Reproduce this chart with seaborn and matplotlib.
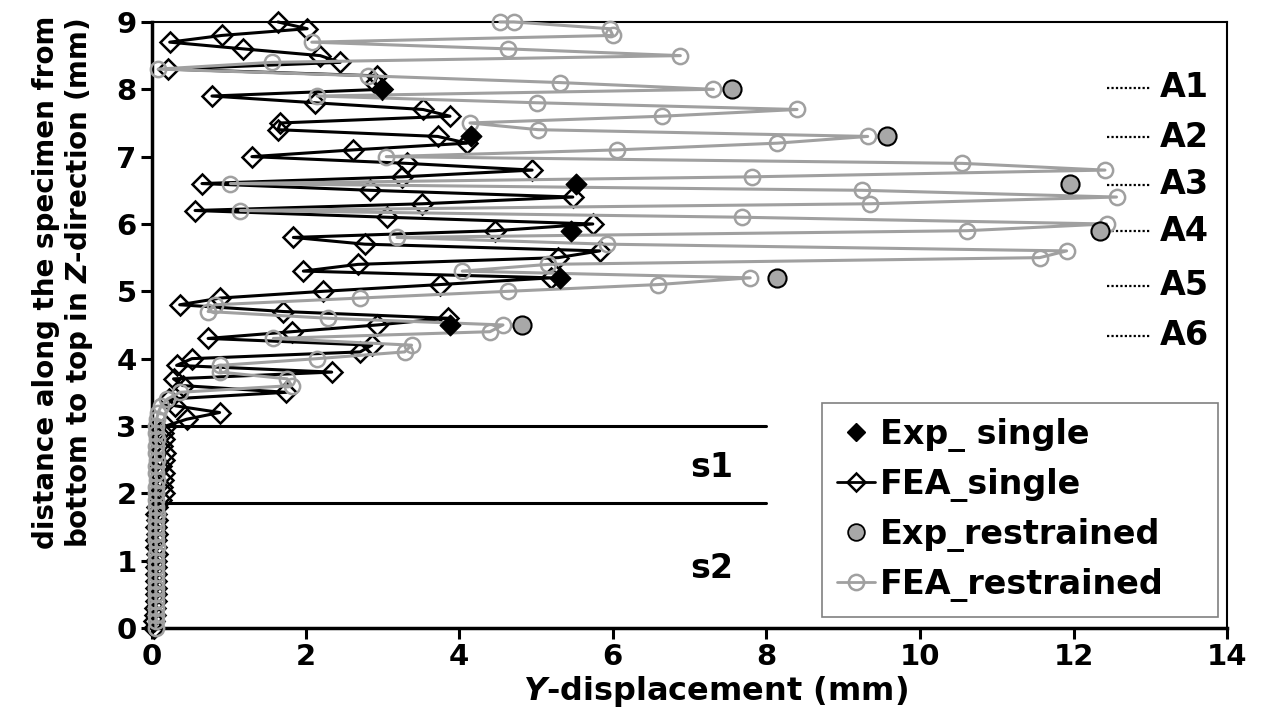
import matplotlib
matplotlib.use("Agg")
import matplotlib.pyplot as plt
import pandas as pd
import seaborn as sns
from matplotlib.lines import Line2D

# ---- FEA, single-track specimen: height z (mm) and Y-displacement (mm) ----
z_single = [9.0, 8.9, 8.8, 8.7, 8.6, 8.5, 8.4, 8.3, 8.2, 8.1, 8.0, 7.9, 7.8, 7.7,
            7.6, 7.5, 7.4, 7.3, 7.2, 7.1, 7.0, 6.9, 6.8, 6.7, 6.6, 6.5, 6.4, 6.3,
            6.2, 6.1, 6.0, 5.9, 5.8, 5.7, 5.6, 5.5, 5.4, 5.3, 5.2, 5.1, 5.0, 4.9,
            4.8, 4.7, 4.6, 4.5, 4.4, 4.3, 4.2, 4.1, 4.0, 3.9, 3.8, 3.7, 3.6, 3.5,
            3.4, 3.3, 3.2, 3.1, 3.0, 2.9, 2.8, 2.7, 2.6, 2.5, 2.4, 2.3, 2.2, 2.1,
            2.0, 1.9, 1.8, 1.7, 1.6, 1.5, 1.4, 1.3, 1.2, 1.1, 1.0, 0.9, 0.8, 0.7,
            0.6, 0.5, 0.4, 0.3, 0.2, 0.1, 0.0]
fea_single = [1.64, 2.02, 0.91, 0.23, 1.19, 2.19, 2.45, 0.21, 2.93, 2.90, 3.00,
              0.78, 2.12, 3.53, 3.88, 1.67, 1.64, 3.72, 4.10, 2.62, 1.30, 3.32,
              4.95, 3.26, 0.65, 2.84, 5.48, 3.52, 0.56, 3.06, 5.74, 4.47, 1.84,
              2.77, 5.83, 5.29, 2.68, 1.97, 5.20, 3.75, 2.23, 0.89, 0.36, 1.71,
              3.85, 2.93, 1.82, 0.73, 2.86, 2.71, 0.52, 0.32, 2.34, 0.28, 0.40,
              1.75, 0.22, 0.30, 0.88, 0.45, 0.18, 0.14, 0.16, 0.13, 0.17, 0.15,
              0.12, 0.16, 0.14, 0.13, 0.15, 0.12, 0.06, 0.05, 0.06, 0.05, 0.06,
              0.05, 0.05, 0.06, 0.05, 0.05, 0.05, 0.05, 0.05, 0.05, 0.05, 0.04,
              0.04, 0.03, 0.02]

# ---- FEA, restrained specimen ----
z_restr = [9.0, 9.0, 8.9, 8.8, 8.7, 8.6, 8.5, 8.4, 8.3, 8.2, 8.1, 8.0, 7.9, 7.8,
           7.7, 7.6, 7.5, 7.4, 7.3, 7.2, 7.1, 7.0, 6.9, 6.8, 6.7, 6.6, 6.5, 6.4,
           6.3, 6.2, 6.1, 6.0, 5.9, 5.8, 5.7, 5.6, 5.5, 5.4, 5.3, 5.2, 5.1, 5.0,
           4.9, 4.8, 4.7, 4.6, 4.5, 4.4, 4.3, 4.2, 4.1, 4.0, 3.9, 3.8, 3.7, 3.6,
           3.5, 3.4, 3.3, 3.2, 3.1, 3.0, 2.9, 2.8, 2.7, 2.6, 2.5, 2.4, 2.3, 2.2,
           2.1, 2.0, 1.9, 1.8, 1.7, 1.6, 1.5, 1.4, 1.3, 1.2, 1.1, 1.0, 0.9, 0.8,
           0.7, 0.6, 0.5, 0.4, 0.3, 0.2, 0.1, 0.0]
fea_restr = [4.53, 4.71, 5.96, 6.00, 2.08, 4.64, 6.88, 1.56, 0.08, 2.81, 5.31,
             7.31, 2.15, 5.01, 8.40, 6.64, 4.14, 5.03, 9.32, 8.14, 6.05, 3.05,
             10.55, 12.41, 7.81, 1.02, 9.25, 12.56, 9.35, 1.15, 7.68, 12.43,
             10.61, 3.19, 5.92, 11.91, 11.56, 5.16, 4.04, 7.79, 6.59, 4.64, 2.71,
             0.82, 0.73, 2.29, 4.57, 4.40, 1.58, 3.38, 3.29, 2.15, 0.89, 0.89,
             1.76, 1.82, 0.36, 0.20, 0.12, 0.08, 0.06, 0.05, 0.05, 0.06, 0.05,
             0.05, 0.06, 0.05, 0.05, 0.06, 0.05, 0.05, 0.05, 0.05, 0.06, 0.05,
             0.05, 0.05, 0.05, 0.06, 0.05, 0.05, 0.05, 0.05, 0.05, 0.05, 0.05,
             0.05, 0.05, 0.05, 0.05, 0.05]

# ---- Experimental measurements at the six sections A1..A6 ----
z_exp = [8.0, 7.3, 6.6, 5.9, 5.2, 4.5]
exp_single = [3.00, 4.15, 5.52, 5.45, 5.31, 3.88]
exp_restr = [7.55, 9.57, 11.95, 12.34, 8.14, 4.82]

section_names = ["A1", "A2", "A3", "A4", "A5", "A6"]
section_levels = [8.02, 7.29, 6.58, 5.89, 5.08, 4.34]

# substrate zone boundaries
zone_bounds = [3.0, 1.85]
zone_names = ["s1", "s2"]
zone_label_z = [2.39, 0.89]

legend_labels = ["Exp_ single", "FEA_single", "Exp_restrained", "FEA_restrained"]

GREY = "#a0a0a0"
GREY_FILL = "#a8a8a8"

sns.set_theme(style="ticks")
plt.rcParams["font.family"] = ["DejaVu Sans"]
plt.rcParams["font.weight"] = "bold"
plt.rcParams["mathtext.fontset"] = "custom"
plt.rcParams["mathtext.it"] = "DejaVu Sans:italic:bold"
plt.rcParams["mathtext.rm"] = "DejaVu Sans:bold"
for key in ["text.color", "axes.labelcolor", "xtick.color", "ytick.color",
            "legend.labelcolor"]:
    plt.rcParams[key] = "black"

fig = plt.figure(figsize=(12.67, 7.2), dpi=100)
ax = fig.add_axes([0.1200, 0.1278, 0.8485, 0.8417])

df_single = pd.DataFrame({"disp": fea_single, "z": z_single})
df_restr = pd.DataFrame({"disp": fea_restr, "z": z_restr})
df_exp = pd.DataFrame({"z": z_exp, "single": exp_single, "restr": exp_restr})

sns.lineplot(data=df_single, x="disp", y="z", sort=False, estimator=None,
             color="black", lw=2.2, marker="D", ms=10, mfc="none",
             mec="black", mew=1.8, clip_on=False, zorder=3, ax=ax, legend=False)
sns.lineplot(data=df_restr, x="disp", y="z", sort=False, estimator=None,
             color=GREY, lw=2.2, marker="o", ms=11, mfc="none",
             mec=GREY, mew=1.8, clip_on=False, zorder=4, ax=ax, legend=False)
sns.scatterplot(data=df_exp, x="single", y="z", marker="D", s=110,
                color="black", edgecolor="black", linewidth=1, zorder=6,
                ax=ax, legend=False)
sns.scatterplot(data=df_exp, x="restr", y="z", marker="o", s=170,
                color=GREY_FILL, edgecolor="black", linewidth=1.5, zorder=6,
                ax=ax, legend=False)

# zone boundaries and labels
for zb in zone_bounds:
    ax.plot([0, 8], [zb, zb], color="black", lw=2.2, zorder=2)
for name, zl in zip(zone_names, zone_label_z):
    ax.text(7.29, zl, name, fontsize=24, fontweight="bold", ha="center",
            va="center", color="black")

# section markers on the right
for name, lvl in zip(section_names, section_levels):
    ax.plot([12.43, 13.0], [lvl, lvl], color="black", lw=1.6, ls=(0, (1, 1)),
            zorder=2)
    ax.text(13.12, lvl, name, fontsize=24, fontweight="bold", ha="left",
            va="center", color="black")

ax.set_xlim(0, 14)
ax.set_ylim(0, 9)
ax.set_xticks(range(0, 15, 2))
ax.set_yticks(range(0, 10))
ax.tick_params(axis="both", direction="out", length=8, width=2.2,
               labelsize=21, pad=3, colors="black")
for lab in ax.get_xticklabels() + ax.get_yticklabels():
    lab.set_fontweight("bold")
for side in ["left", "bottom"]:
    ax.spines[side].set_linewidth(2.5)
for side in ["top", "right"]:
    ax.spines[side].set_linewidth(1.5)
for sp in ax.spines.values():
    sp.set_color("black")

ax.set_xlabel("$\\mathit{Y}$-displacement (mm)", fontsize=23, fontweight="bold")
ax.set_ylabel("distance along the specimen from\nbottom to top in $\\mathit{Z}$-direction (mm)",
              fontsize=20, fontweight="bold", linespacing=1.12)
ax.xaxis.set_label_coords(0.524, -0.076)
ax.xaxis.label.set_va("top")
ax.yaxis.set_label_coords(-0.053, 0.57)

handles = [
    Line2D([], [], ls="none", marker="D", ms=9, color="black"),
    Line2D([], [], color="black", lw=2, marker="D", ms=9, mfc="none",
           mec="black", mew=1.8),
    Line2D([], [], ls="none", marker="o", ms=12, mfc=GREY_FILL, mec="black",
           mew=1.3),
    Line2D([], [], color=GREY, lw=2, marker="o", ms=11, mfc="none", mec=GREY,
           mew=1.8),
]
leg = ax.legend(handles, legend_labels, loc="lower left",
                bbox_to_anchor=(0.623, 0.018, 0.369, 0.347), mode="expand",
                handlelength=1.15, handletextpad=0.15, borderpad=0.45,
                labelspacing=0.48, borderaxespad=0.0,
                frameon=True, fancybox=False, edgecolor="#808080",
                framealpha=1, prop={"weight": "bold", "size": 24})
leg.get_frame().set_linewidth(1.2)

fig.savefig("out.png", dpi=100, facecolor="white")
